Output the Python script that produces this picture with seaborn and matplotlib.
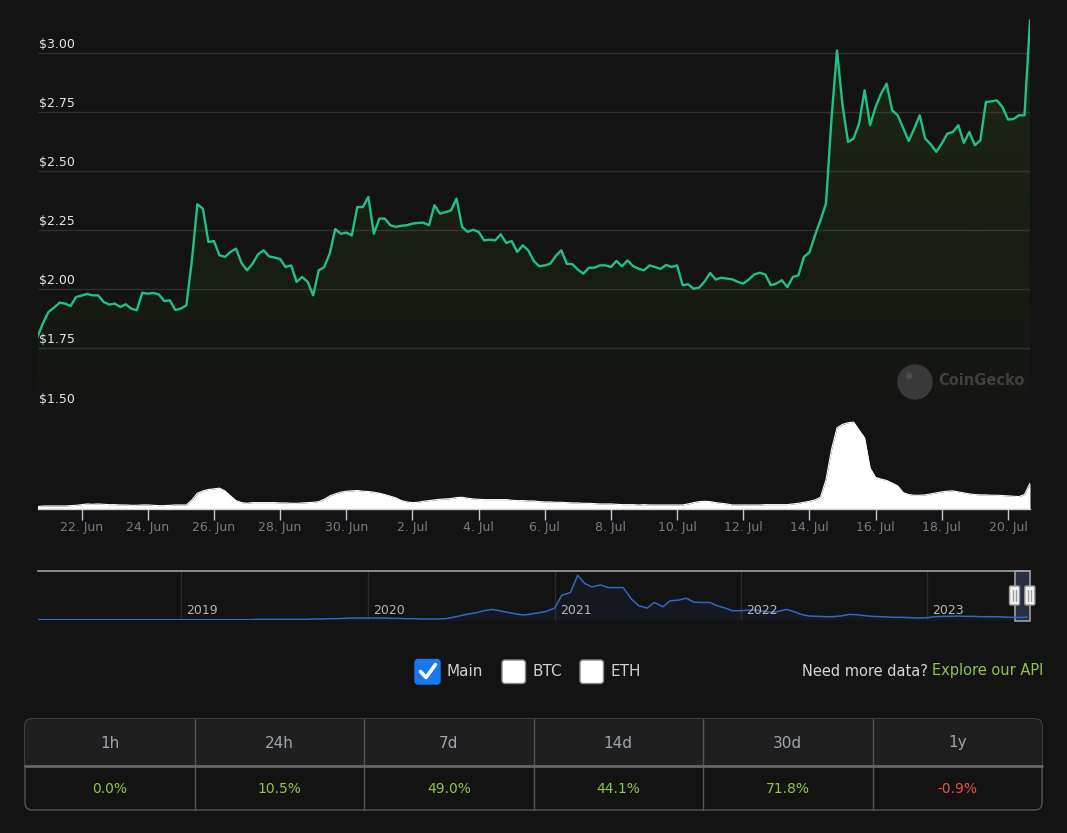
import numpy as np
import pandas as pd
import matplotlib
matplotlib.use("Agg")
import matplotlib.pyplot as plt
import matplotlib.dates as mdates
import matplotlib.transforms as mtransforms
from matplotlib.patches import FancyBboxPatch, Rectangle, Circle
from matplotlib.colors import to_rgb
from matplotlib.ticker import FuncFormatter
import seaborn as sns

W, H = 1067, 833
BG = "#131313"

# precio cada 4 horas, 20 jun 16:00 -> 20 jul 16:00
price = [
    1.797, 1.856, 1.903, 1.921, 1.942, 1.938, 1.928, 1.966, 1.972, 1.979,
    1.973, 1.973, 1.945, 1.934, 1.938, 1.924, 1.935, 1.917, 1.910, 1.984,
    1.980, 1.983, 1.977, 1.949, 1.952, 1.911, 1.917, 1.931, 2.121, 2.359,
    2.340, 2.199, 2.203, 2.143, 2.136, 2.157, 2.171, 2.110, 2.079, 2.107,
    2.147, 2.164, 2.138, 2.133, 2.127, 2.093, 2.100, 2.030, 2.051, 2.030,
    1.973, 2.079, 2.093, 2.150, 2.254, 2.234, 2.239, 2.227, 2.347, 2.347,
    2.390, 2.234, 2.298, 2.298, 2.270, 2.263, 2.268, 2.270, 2.277, 2.280,
    2.281, 2.270, 2.355, 2.319, 2.326, 2.333, 2.383, 2.263, 2.242, 2.251,
    2.242, 2.206, 2.209, 2.206, 2.232, 2.195, 2.203, 2.157, 2.185, 2.164,
    2.119, 2.096, 2.100, 2.107, 2.140, 2.164, 2.107, 2.105, 2.082, 2.065,
    2.090, 2.090, 2.100, 2.100, 2.093, 2.119, 2.096, 2.121, 2.097, 2.086,
    2.079, 2.100, 2.093, 2.085, 2.102, 2.093, 2.100, 2.016, 2.020, 2.001,
    2.006, 2.032, 2.068, 2.040, 2.048, 2.044, 2.041, 2.030, 2.023, 2.040,
    2.062, 2.069, 2.061, 2.016, 2.023, 2.037, 2.008, 2.051, 2.058, 2.136,
    2.155, 2.227, 2.291, 2.362, 2.722, 3.011, 2.778, 2.623, 2.637, 2.701,
    2.842, 2.694, 2.771, 2.828, 2.870, 2.757, 2.736, 2.682, 2.627, 2.679,
    2.736, 2.637, 2.613, 2.581, 2.616, 2.658, 2.665, 2.694, 2.619, 2.665,
    2.609, 2.630, 2.792, 2.795, 2.799, 2.771, 2.718, 2.720, 2.736, 2.736,
    3.138,
]

# volumen (millones) cada 4 horas
volume = [
    0.7, 0.9, 0.9, 0.9, 0.9, 0.9, 1.0, 1.1, 1.3, 1.5,
    1.4, 1.5, 1.4, 1.3, 1.3, 1.2, 1.2, 1.1, 1.1, 1.2,
    1.2, 1.1, 1.0, 1.0, 1.1, 1.2, 1.2, 1.2, 2.7, 4.7,
    5.4, 5.8, 6.0, 6.2, 5.4, 3.9, 2.5, 1.9, 1.7, 1.9,
    1.9, 1.9, 1.9, 1.9, 1.8, 1.8, 1.7, 1.7, 1.8, 1.9,
    2.0, 2.2, 2.9, 3.9, 4.5, 5.0, 5.3, 5.4, 5.5, 5.3,
    5.2, 5.0, 4.7, 4.3, 3.8, 3.3, 2.5, 2.1, 1.9, 2.0,
    2.3, 2.5, 2.7, 2.9, 3.0, 3.1, 3.4, 3.5, 3.2, 3.0,
    2.9, 2.8, 2.8, 2.8, 2.8, 2.8, 2.6, 2.5, 2.5, 2.4,
    2.4, 2.2, 2.1, 2.1, 2.0, 2.0, 1.9, 1.8, 1.8, 1.7,
    1.7, 1.6, 1.5, 1.5, 1.5, 1.4, 1.3, 1.3, 1.3, 1.2,
    1.3, 1.2, 1.2, 1.2, 1.2, 1.2, 1.2, 1.2, 1.5, 1.9,
    2.2, 2.3, 2.2, 1.9, 1.7, 1.5, 1.2, 1.2, 1.2, 1.2,
    1.2, 1.2, 1.3, 1.3, 1.3, 1.3, 1.3, 1.5, 1.7, 2.0,
    2.3, 2.7, 3.5, 8.7, 17.7, 24.2, 25.2, 25.7, 25.9, 23.5,
    21.2, 12.2, 9.4, 8.9, 8.5, 7.7, 6.9, 4.9, 4.3, 4.1,
    4.1, 4.2, 4.5, 4.8, 5.1, 5.3, 5.4, 5.1, 4.8, 4.5,
    4.3, 4.2, 4.2, 4.1, 4.1, 4.0, 3.9, 3.8, 3.7, 4.3,
    7.7,
]

# historico del navegador, quincenal desde 15 mar 2018
nav_price = (
    [0.05] * 29 + [0.10] * 7 +
    [0.15, 0.15, 0.20, 0.20, 0.25, 0.30, 0.30, 0.30, 0.30, 0.30,
     0.25, 0.25, 0.20, 0.20, 0.15, 0.15, 0.15, 0.20, 0.40, 0.65,
     0.90, 1.10, 1.40, 1.60, 1.40, 1.15, 0.95, 0.75, 0.90, 1.10,
     1.30, 1.80, 3.75, 4.15, 6.75, 5.50, 5.00, 5.30, 4.90, 4.90,
     4.90, 3.10, 2.15, 1.80, 2.65, 2.00, 2.90, 3.00, 3.30, 2.70,
     2.65, 2.65, 2.15, 1.80, 1.40, 1.40, 1.50, 1.50, 1.30, 1.15,
     1.30, 1.60, 1.25, 0.80, 0.60, 0.55, 0.50, 0.50, 0.60, 0.85,
     0.80, 0.65, 0.55, 0.50, 0.45, 0.40, 0.40, 0.35, 0.30, 0.35,
     0.50, 0.55, 0.55, 0.60, 0.55, 0.55, 0.50, 0.50, 0.50, 0.45,
     0.40, 0.40, 0.45]
)

price_ticks = [1.50, 1.75, 2.00, 2.25, 2.50, 2.75, 3.00]
date_ticks = pd.date_range("2023-06-22", "2023-07-20", freq="2D")
years = [2019, 2020, 2021, 2022, 2023]
periods = ["1h", "24h", "7d", "14d", "30d", "1y"]
changes = [0.0, 10.5, 49.0, 44.1, 71.8, -0.9]
series_names = ["Main", "BTC", "ETH"]

times = pd.date_range("2023-06-20 16:00", periods=len(price), freq="4h")
nav_times = pd.date_range("2018-03-15", periods=len(nav_price), freq="SMS")

sns.set_theme(style="dark", rc={"axes.facecolor": BG, "figure.facecolor": BG})
plt.rcParams["font.family"] = ["DejaVu Sans"]

fig = plt.figure(figsize=(W / 100, H / 100), dpi=100)


def box(x0, y0, x1, y1):
    return [x0 / W, 1 - y1 / H, (x1 - x0) / W, (y1 - y0) / H]


def clean(ax):
    for s in ax.spines.values():
        s.set_visible(False)
    ax.set_xlabel("")
    ax.set_ylabel("")


# ---- precio ----
ax_p = fig.add_axes(box(37.5, 10, 1030, 407))
ax_p.set_facecolor(BG)
xnum = mdates.date2num(times)
poly = ax_p.fill_between(times, price, 1.5, facecolor="none", edgecolor="none")
rgba = np.zeros((256, 1, 4))
rgba[..., :3] = to_rgb("#5c9e22")
rgba[..., 3] = np.linspace(0.02, 0.16, 256)[:, None]
im = ax_p.imshow(rgba, extent=[xnum[0], xnum[-1], 1.5, 3.15], origin="lower",
                 aspect="auto", zorder=1)
im.set_clip_path(poly.get_paths()[0], transform=ax_p.transData)
sns.lineplot(x=times, y=price, ax=ax_p, color="#1fc286", linewidth=1.7, zorder=3)
ax_p.set_xlim(times[0], times[-1])
ax_p.set_ylim(1.5, 3.182)
ax_p.set_yticks(price_ticks)
ax_p.yaxis.grid(True, color="#2f2f2f", linewidth=1)
ax_p.xaxis.grid(False)
ax_p.tick_params(left=False, labelleft=False, bottom=False, labelbottom=False)
clean(ax_p)
lab_tr = mtransforms.offset_copy(
    mtransforms.blended_transform_factory(ax_p.transAxes, ax_p.transData),
    fig=fig, x=1, y=8, units="dots")
for t in price_ticks:
    ax_p.text(0, t, f"${t:.2f}", transform=lab_tr, color="#e6e6e6",
              fontsize=9, va="center", ha="left", zorder=4)

# ---- volumen ----
ax_v = fig.add_axes(box(37.5, 415, 1030, 509))
ax_v.set_facecolor(BG)
ax_v.fill_between(times, volume, 0, color="white", linewidth=0)
sns.lineplot(x=times, y=volume, ax=ax_v, color="white", linewidth=0.8)
ax_v.set_xlim(times[0], times[-1])
ax_v.set_ylim(0, 28)
clean(ax_v)
ax_v.spines["bottom"].set_visible(True)
ax_v.spines["bottom"].set_color("#c8cfdb")
ax_v.spines["bottom"].set_linewidth(1)
ax_v.set_yticks([])
ax_v.set_xticks(date_ticks)
ax_v.xaxis.set_major_formatter(FuncFormatter(
    lambda v, pos: f"{mdates.num2date(v).day}. {mdates.num2date(v):%b}"))
ax_v.tick_params(axis="x", bottom=True, direction="out", length=8, width=1,
                 color="#c0c8d8", pad=1, labelsize=9, labelcolor="#747b86")
ax_v.grid(False)

# ---- navegador ----
ax_n = fig.add_axes(box(37.5, 571, 1030, 620))
ax_n.set_facecolor(BG)
for y in years:
    ax_n.axvline(pd.Timestamp(f"{y}-01-01"), color="#2c2c2c", linewidth=1, zorder=0)
ax_n.axvspan(times[0], times[-1], ymin=-0.03, ymax=1.0, facecolor="#283142",
             edgecolor="#a0a0a0", linewidth=1.2, clip_on=False, zorder=1)
ax_n.fill_between(nav_times, nav_price, 0, color="#3565c2", alpha=0.07,
                  linewidth=0, zorder=2)
sns.lineplot(x=nav_times, y=nav_price, ax=ax_n, color="#3565c2",
             linewidth=1.1, zorder=3)
ax_n.set_xlim(pd.Timestamp("2018-03-25"), pd.Timestamp("2023-07-21"))
ax_n.set_ylim(0, 7.4)
clean(ax_n)
ax_n.spines["top"].set_visible(True)
ax_n.spines["top"].set_color("#a0a0a0")
ax_n.spines["top"].set_linewidth(1.2)
ax_n.set_xticks([])
ax_n.set_yticks([])
ax_n.grid(False)
yr_tr = mtransforms.offset_copy(
    mtransforms.blended_transform_factory(ax_n.transData, ax_n.transAxes),
    fig=fig, x=5, y=0, units="dots")
for y in years:
    ax_n.text(pd.Timestamp(f"{y}-01-01"), 0.2, str(y), transform=yr_tr,
              color="#b5b5b5", fontsize=9, va="center", ha="left")

# ---- capa en pixeles ----
ov = fig.add_axes([0, 0, 1, 1])
ov.set_xlim(0, W)
ov.set_ylim(H, 0)
ov.axis("off")
ov.patch.set_alpha(0)

# manijas del navegador
for t in (times[0], times[-1]):
    hx = ax_n.transData.transform((mdates.date2num(t), 0))[0]
    ov.add_patch(FancyBboxPatch((hx - 5, 586), 10, 19,
                                boxstyle="round,pad=0,rounding_size=1.5",
                                facecolor="#f2f2f2", edgecolor="#9a9a9a", lw=1))
    for dx in (-1.5, 1.5):
        ov.plot([hx + dx, hx + dx], [590, 601], color="#9a9a9a", lw=0.9)

# marca de agua
ov.add_patch(Circle((915, 382), 17, color="#393939"))
ov.add_patch(Circle((909, 376), 2.5, color="#4a4a4a"))
ov.text(938, 380, "CoinGecko", color="#3f3f3f", fontsize=10.5,
        fontweight="bold", va="center", ha="left")

# casillas
box_x = [415, 502, 580]
for i, (name, bx) in enumerate(zip(series_names, box_x)):
    if i == 0:
        ov.add_patch(FancyBboxPatch((bx, 659.5), 25, 24.5,
                                    boxstyle="round,pad=0,rounding_size=3",
                                    facecolor="#1877f2", edgecolor="#1877f2"))
        ov.plot([bx + 5.5, bx + 11, bx + 20.5], [671.5, 677.5, 664.5],
                color="white", lw=2.6, solid_capstyle="round",
                solid_joinstyle="round")
        lx = bx + 31
    else:
        ov.add_patch(FancyBboxPatch((bx, 660), 23.5, 23.5,
                                    boxstyle="round,pad=0,rounding_size=3",
                                    facecolor="white", edgecolor="#8a8a8a", lw=1))
        lx = bx + 31
    ov.text(lx, 672, name, color="#d0d0d0", fontsize=11, va="center", ha="left")

api = ov.text(1043, 671, "Explore our API", color="#8dc647", fontsize=10.5,
              va="center", ha="right")
renderer = fig.canvas.get_renderer()
x_api = api.get_window_extent(renderer).x0
ov.text(x_api - 4, 671, "Need more data?", color="#d6d6d6", fontsize=10.5,
        va="center", ha="right")

# tabla de cambios
tx0, tx1, ty0, ty1, tmid = 25, 1042, 719, 810, 766
outer = FancyBboxPatch((tx0, ty0), tx1 - tx0, ty1 - ty0,
                       boxstyle="round,pad=0,rounding_size=7",
                       facecolor="#131313", edgecolor="#555555", lw=1, zorder=1)
ov.add_patch(outer)
head = Rectangle((tx0, ty0), tx1 - tx0, tmid - ty0, facecolor="#1f1f1f",
                 edgecolor="none", zorder=1.5)
ov.add_patch(head)
head.set_clip_path(outer)
colw = (tx1 - tx0) / len(periods)
for i in range(1, len(periods)):
    ov.plot([tx0 + i * colw] * 2, [ty0, ty1], color="#555555", lw=1, zorder=2)
ov.plot([tx0, tx1], [tmid, tmid], color="#666666", lw=2, zorder=2)
for i, (p, c) in enumerate(zip(periods, changes)):
    cx = tx0 + (i + 0.5) * colw
    ov.text(cx, 743, p, color="#9ea6b2", fontsize=11, ha="center", va="center",
            zorder=3)
    ov.text(cx, 789, f"{c:.1f}%", color="#8dc647" if c >= 0 else "#e5533d",
            fontsize=10, ha="center", va="center", zorder=3)

fig.savefig("out.png", dpi=100, facecolor=BG)
